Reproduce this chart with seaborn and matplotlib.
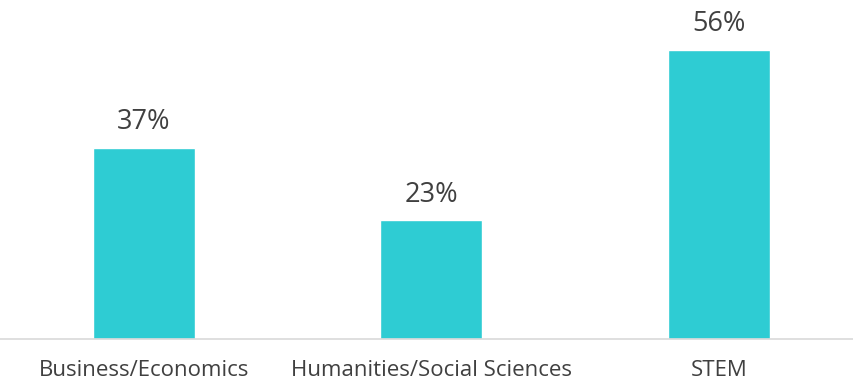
import matplotlib
matplotlib.use("Agg")
import matplotlib.pyplot as plt
import seaborn as sns
import pandas as pd

categories = ["Business/Economics", "Humanities/Social Sciences", "STEM"]
values = [37, 23, 56]
labels = ["37%", "23%", "56%"]

sns.set_theme(style="white")
plt.rcParams['font.family'] = ['Open Sans', 'DejaVu Sans']

df = pd.DataFrame({"cat": categories, "val": values})
fig = plt.figure(figsize=(8.54, 3.83), dpi=100)
ax = fig.add_axes([0.0, 0.115, 1.0, 0.875])
sns.barplot(data=df, x="cat", y="val", color="#2ECCD3", width=0.355, ax=ax, saturation=1)
ax.set_xlim(-0.5, 2.47)
ax.set_ylim(0, 65)
for i, (v, l) in enumerate(zip(values, labels)):
    ax.text(i, v + 2.3, l, ha="center", va="bottom", fontsize=19.5, color="#404040")
for s in ["top", "right", "left"]:
    ax.spines[s].set_visible(False)
ax.spines["bottom"].set_color("#d9d9d9")
ax.spines["bottom"].set_linewidth(1.2)
ax.set_yticks([])
ax.set_xlabel("")
ax.set_ylabel("")
ax.tick_params(axis="x", length=0, pad=15, labelsize=16, labelcolor="#404040")
fig.savefig("out.png", dpi=100)
